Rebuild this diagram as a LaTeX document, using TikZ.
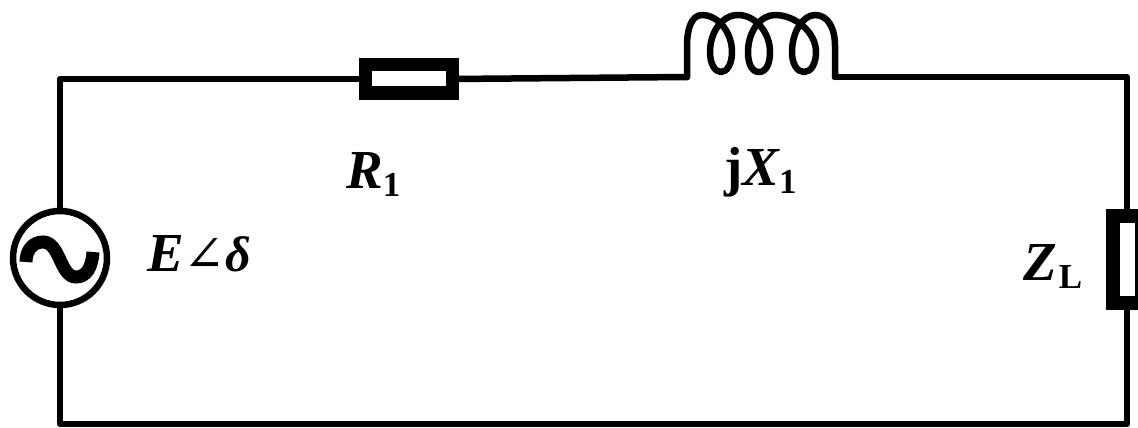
\documentclass[tikz,border=0pt]{standalone}
\usepackage{fontspec}
\setmainfont{Liberation Serif}
\tikzset{
  wire/.style={line width=6.5pt,line cap=round,line join=round},
  resbox/.style={draw,line width=13.5pt,fill=white,inner sep=0pt,outer sep=0pt},
  srcnode/.style={circle,draw,line width=6.5pt,fill=white,inner sep=0pt,outer sep=0pt,minimum size=94pt},
  lab/.style={inner sep=0pt,font=\fontsize{55pt}{55pt}\selectfont\bfseries\itshape},
}
\newcommand{\subup}[1]{\raisebox{-8pt}{\fontsize{35pt}{35pt}\selectfont\upshape\bfseries #1}}
\begin{document}
\begin{tikzpicture}[x=1pt,y=-1pt]
\useasboundingbox (0,0) rectangle (1138,428);
\clip (0,0) rectangle (1138,428);
\fill[white] (0,0) rectangle (1138,428);
\coordinate (TL) at (60,79);
\coordinate (BL) at (60,424);
\coordinate (BR) at (1127,424);
\coordinate (TR) at (1127,77);
\coordinate (Lin) at (687,77);
\coordinate (Lout) at (835,77);
\node[srcnode] (src) at (60,258) {};
\node[resbox,minimum width=87pt,minimum height=28.5pt] (R1) at (409,79) {};
\node[resbox,line width=14pt,minimum width=29pt,minimum height=87pt] (ZL) at (1127,259) {};
\draw[wire] (src.north) -- (TL) -- (R1.west);
\draw[wire] (R1.east) -- (Lin);
\draw[wire] (Lout) -- (TR) -- (ZL.north);
\draw[wire] (ZL.south) -- (BR) -- (BL) -- (src.south);
\draw[wire] (Lin) -- (687,46)
  .. controls (687,28) and (692,15) .. (702,15)
  .. controls (718,15) and (732,32) .. (732,52)
  .. controls (732,64) and (727,72) .. (721,72)
  .. controls (715,72) and (710,64) .. (710,52)
  .. controls (710,32) and (722,15) .. (738,15)
  .. controls (755,15) and (770,32) .. (770,52)
  .. controls (770,64) and (766,72) .. (759,72)
  .. controls (752,72) and (748,64) .. (748,52)
  .. controls (748,32) and (760,15) .. (775,15)
  .. controls (795,15) and (816,32) .. (816,52)
  .. controls (816,64) and (811,72) .. (804,72)
  .. controls (797,72) and (792,64) .. (792,52)
  .. controls (792,32) and (803,15) .. (815,15)
  .. controls (828,15) and (835,28) .. (835,46)
  -- (Lout);
\draw[line width=13pt] (26,262)
  .. controls (26,250) and (33,242) .. (43,242)
  .. controls (60,242) and (60,277) .. (76,277)
  .. controls (86,277) and (92,268) .. (93,252);
\node[lab,anchor=base west] (tR) at (346,188) {R\subup{1}};
\node[lab,anchor=base west] (tX) at (724,185) {{\upshape j}X\subup{1}};
\node[lab,anchor=base west] (tE) at (147,271) {E{\fontspec{DejaVu Serif}\fontsize{50pt}{50pt}\selectfont\upshape\mdseries∠}{\fontsize{50pt}{50pt}\selectfont δ}};
\node[lab,anchor=base west] (tZ) at (1023,280) {Z\kern2pt\subup{L}};
\end{tikzpicture}
\end{document}
